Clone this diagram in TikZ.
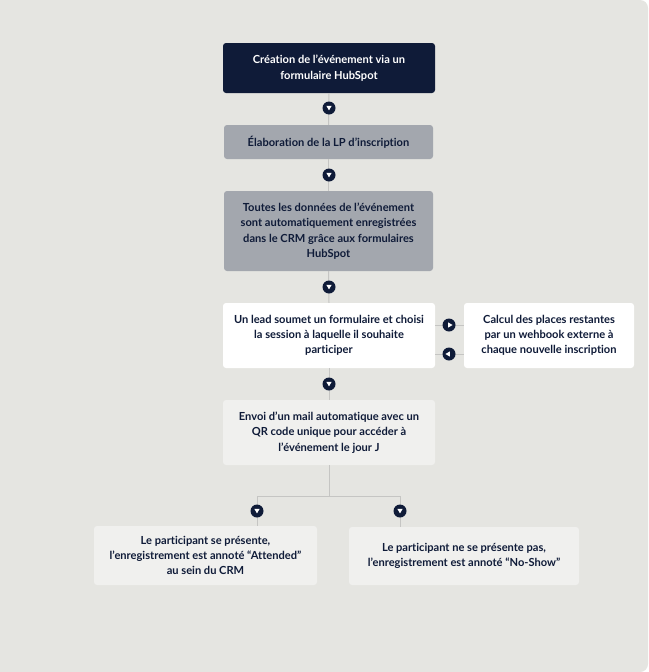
\documentclass[tikz,border=0pt]{standalone}
\usepackage{fontspec}
\setmainfont{Lato}[Ligatures=NoCommon]
\usetikzlibrary{shapes.geometric,calc}
\definecolor{navy}{HTML}{0F1B38}
\definecolor{greybox}{HTML}{A3A7AE}
\definecolor{lightbox}{HTML}{F0F0EE}
\definecolor{bgc}{HTML}{E5E5E1}
\definecolor{linec}{HTML}{C5C5C3}
\begin{document}
\begin{tikzpicture}[x=1pt,y=-1pt,
  box/.style={rectangle,rounded corners=3pt,inner sep=0pt,align=center,text=navy,
    font=\fontsize{11.1}{15.3}\selectfont\bfseries},
  conn/.style={draw=linec,line width=1pt},
  mk/.style={circle,fill=navy,minimum size=13pt,inner sep=0pt},
  tri/.style={regular polygon,regular polygon sides=3,fill=white,inner sep=0pt,minimum size=6pt}]
\useasboundingbox (0,0) rectangle (648,672);
\fill[white] (0,0) rectangle (648,672);
\fill[bgc,rounded corners=8pt] (-20,0) rectangle (648,672);

\node[box,fill=navy,text=white,minimum width=212pt,minimum height=50pt] (b1) at (329,68)
  {Création de l’événement via un\\formulaire HubSpot};
\node[box,fill=greybox,minimum width=209pt,minimum height=34pt] (b2) at (328.5,142)
  {Élaboration de la LP d’inscription};
\node[box,fill=greybox,minimum width=209pt,minimum height=80pt] (b3) at (328.5,231)
  {Toutes les données de l’événement\\sont automatiquement enregistrées\\dans le CRM grâce aux formulaires\\HubSpot};
\node[box,fill=white,minimum width=212pt,minimum height=65pt] (b4) at (329,335.5)
  {Un lead soumet un formulaire et choisi\\la session à laquelle il souhaite\\participer};
\node[box,fill=white,minimum width=170pt,minimum height=65pt] (b5) at (549,335.5)
  {Calcul des places restantes\\par un wehbook externe à\\chaque nouvelle inscription};
\node[box,fill=lightbox,minimum width=212pt,minimum height=65pt] (b6) at (329,432.5)
  {Envoi d’un mail automatique avec un\\QR code unique pour accéder à\\l’événement le jour J};
\node[box,fill=lightbox,minimum width=223pt,minimum height=59pt] (b7) at (205.5,555.5)
  {Le participant se présente,\\l’enregistrement est annoté “Attended”\\au sein du CRM};
\node[box,fill=lightbox,minimum width=230pt,minimum height=58pt] (b8) at (464,556)
  {Le participant ne se présente pas,\\l’enregistrement est annoté “No-Show”};

% connectors
\draw[conn] (b1.south) -- (b2.north);
\draw[conn] (b2.south) -- (b3.north);
\draw[conn] (b3.south) -- (b4.north);
\draw[conn] (b4.south) -- (b6.north);
\coordinate (j) at (329,496);
\coordinate (jl) at (257,496);
\coordinate (jr) at (400,496);
\draw[conn] (b6.south) -- (j);
\draw[conn] (jl) -- (jr);
\draw[conn] (jl) -- (jl |- b7.north);
\draw[conn] (jr) -- (jr |- b8.north);
\draw[conn] ([yshift=10.5pt]b4.east) -- ([yshift=10.5pt]b5.west);
\draw[conn] ([yshift=-18.5pt]b4.east) -- ([yshift=-18.5pt]b5.west);

% markers
\foreach \n/\p in {m1/{329,108},m2/{329,175},m3/{329,287},m4/{329,384},m5/{257,511},m6/{400,511}}{
  \node[mk] (\n) at (\p) {};
  \node[tri,shape border rotate=180] at ([yshift=0.6pt]\n.center) {};
}
\node[mk] (m7) at (449,325) {};
\node[tri,shape border rotate=-90] at ([xshift=0.6pt]m7.center) {};
\node[mk] (m8) at (449,354) {};
\node[tri,shape border rotate=90] at ([xshift=-0.6pt]m8.center) {};
\end{tikzpicture}
\end{document}
